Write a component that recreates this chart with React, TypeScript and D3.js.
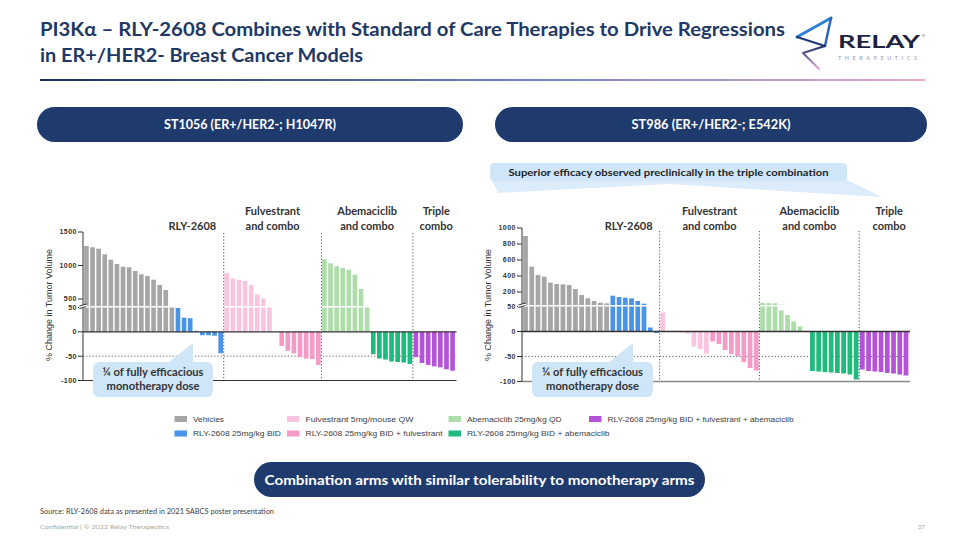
import React from "react";
import * as d3 from "d3";

// ---------------- data ----------------
const seriesNames = [
  "Vehicles",
  "RLY-2608 25mg/kg BID",
  "Fulvestrant 5mg/mouse QW",
  "RLY-2608 25mg/kg BID + fulvestrant",
  "Abemaciclib 25mg/kg QD",
  "RLY-2608 25mg/kg BID + abemaciclib",
  "RLY-2608 25mg/kg BID + fulvestrant + abemaciclib",
];

// ST1056 (ER+/HER2-; H1047R)
const st1056Vehicles = [1291, 1272, 1251, 1167, 1087, 1022, 982, 973, 918, 869, 843, 788, 709, 634, 300];
const st1056Rly = [49, 29, 28, 2, -7, -7, -8, -44];
const st1056Fulv = [886, 806, 786, 771, 708, 568, 509, 300, 0];
const st1056RlyFulv = [-29, -39, -44, -52, -55, -56, -68];
const st1056Abema = [1093, 1033, 988, 963, 937, 863, 649, 300];
const st1056RlyAbema = [-46, -55, -57, -61, -62, -63, -66];
const st1056Triple = [-52, -64, -68, -71, -73, -77, -80];

// ST986 (ER+/HER2-; E542K)
const st986Vehicles = [900, 517, 412, 392, 317, 300, 296, 288, 237, 162, 121, 88, 66, 58];
const st986Rly = [154, 137, 129, 121, 88, 54, 8, -3];
const st986Fulv = [38, 0, 0, -2, -4, -30, -35, -44];
const st986RlyFulv = [-20, -25, -37, -45, -49, -61, -73, -78];
const st986Abema = [62, 60, 58, 42, 33, 20, 10, 0];
const st986RlyAbema = [-79, -80, -81, -82, -83, -84, -86, -96];
const st986Triple = [-76, -79, -80, -81, -83, -84, -86, -88];

const leftUpperTicks = [500, 1000, 1500];
const rightUpperTicks = [200, 400, 600, 800, 1000];
const lowerTicks = [50, 0, -50, -100];
const sectionTitles = [["RLY-2608"], ["Fulvestrant", "and combo"], ["Abemaciclib", "and combo"], ["Triple", "combo"]];
const sectionSeries = [[0, 1], [2, 3], [4, 5], [6]];

// ---------------- styles ----------------
const seriesColors = ["#a6a6a6", "#4a94e8", "#f9c4df", "#f59bc8", "#aedcab", "#1dbb7c", "#b453d8"];
const NAVY = "#1f3a6d";
const CAL = "Lato, 'Open Sans', sans-serif";
const ARIAL = "'Liberation Sans', Arial, sans-serif";

type Cfg = {
  id: string;
  x0: number; x1: number; axisX: number;
  lowerRange: [number, number];
  upperDomain: [number, number];
  upperRange: [number, number];
  upperTicks: number[];
  clipBottom: number;
  titleX: number;
  sepTop: number;
  bottomStroke: string; bottomWidth: number;
  labelDx: number[];
  callout: { x: number; y: number; w: number; h: number; tipX: number; tipY: number; baseX: number };
};

const leftCfg: Cfg = {
  id: "L", x0: 83.5, x1: 455.5, axisX: 83,
  lowerRange: [380.5, 307.5], upperDomain: [0, 1500], upperRange: [332.5, 232],
  upperTicks: leftUpperTicks, clipBottom: 306, titleX: 52, sepTop: 233,
  bottomStroke: "#333", bottomWidth: 1, labelDx: [-7, 0, 0, 2],
  callout: { x: 93, y: 362, w: 120, h: 35, tipX: 193, tipY: 343, baseX: 168 },
};
const rightCfg: Cfg = {
  id: "R", x0: 522.5, x1: 909, axisX: 522,
  lowerRange: [381.5, 306.5], upperDomain: [0, 1000], upperRange: [308, 228],
  upperTicks: rightUpperTicks, clipBottom: 305, titleX: 491, sepTop: 231,
  bottomStroke: "#8a8a8a", bottomWidth: 1.6, labelDx: [-6, 0, 0, 5],
  callout: { x: 532, y: 362, w: 121, h: 35, tipX: 633, tipY: 343, baseX: 608 },
};

function Panel({ cfg, series }: { cfg: Cfg; series: number[][] }) {
  const flat = series.flatMap((arr, si) => arr.map((v) => ({ v, si })));
  const n = flat.length;
  const x = d3.scaleBand<number>().domain(d3.range(n)).range([cfg.x0, cfg.x1]).paddingInner(0.24).paddingOuter(0.1);
  const yL = d3.scaleLinear().domain([-100, 50]).range(cfg.lowerRange);
  const yU = d3.scaleLinear().domain(cfg.upperDomain).range(cfg.upperRange);
  const step = x.step();
  const edge = (i: number) => (i < n ? (x(i) as number) : (x(n - 1) as number) + step) - (step * x.paddingInner()) / 2;
  let idx = 0;
  const sections = sectionSeries.map((ss) => {
    const start = idx;
    idx += ss.reduce((a, s) => a + series[s].length, 0);
    return { start, end: idx };
  });
  const rlyStart = series[0].length;
  const rlyEnd = rlyStart + series[1].length;
  const labelX = sections.map((s, k) =>
    k === 0 ? (edge(rlyStart) + edge(rlyEnd)) / 2 + cfg.labelDx[k] : (edge(s.start) + edge(s.end)) / 2 + cfg.labelDx[k]
  );
  const yTop = yU(cfg.upperDomain[1]);
  const yBot = yL(-100);
  const ax = cfg.axisX;
  const bw = x.bandwidth();
  const c = cfg.callout;
  const tickStyle = { fontFamily: ARIAL, fontSize: 7, fontWeight: 700 as const, fill: "#333", letterSpacing: 0.5 };

  return (
    <g>
      <defs>
        <clipPath id={"up" + cfg.id}>
          <rect x={cfg.x0 - 5} y={yTop - 10} width={cfg.x1 - cfg.x0 + 10} height={cfg.clipBottom - yTop + 10} />
        </clipPath>
      </defs>
      {/* -50 reference */}
      <line x1={ax} x2={cfg.x1} y1={yL(-50)} y2={yL(-50)} stroke="#666" strokeWidth={1} strokeDasharray="1.2 2" />
      {/* bars */}
      {flat.map((d, i) => {
        const bx = x(i) as number;
        const col = seriesColors[d.si];
        if (d.v >= 0) {
          const top = yL(Math.min(d.v, 50));
          const ut = yU(d.v);
          return (
            <g key={i}>
              <rect x={bx} y={top} width={bw} height={yL(0) - top} fill={col} />
              {ut < cfg.clipBottom && (
                <rect x={bx} y={ut} width={bw} height={cfg.clipBottom - ut} fill={col} clipPath={`url(#up${cfg.id})`} />
              )}
            </g>
          );
        }
        return <rect key={i} x={bx} y={yL(0)} width={bw} height={yL(d.v) - yL(0)} fill={col} />;
      })}
      {/* section separators */}
      {sections.slice(1).map((s, k) => (
        <line key={k} x1={edge(s.start)} x2={edge(s.start)} y1={cfg.sepTop} y2={yBot} stroke="#555" strokeWidth={1} strokeDasharray="1.2 2" />
      ))}
      {/* zero line & bottom line */}
      <line x1={ax} x2={cfg.x1 + 1} y1={yL(0)} y2={yL(0)} stroke="#333" strokeWidth={1.3} />
      <line x1={ax} x2={cfg.x1 + 1} y1={yBot} y2={yBot} stroke={cfg.bottomStroke} strokeWidth={cfg.bottomWidth} />
      {/* y axis */}
      <line x1={ax} x2={ax} y1={yTop} y2={yBot} stroke="#333" strokeWidth={1} />
      {cfg.upperTicks.map((t) => (
        <g key={"u" + t}>
          <line x1={ax - 5} x2={ax} y1={yU(t)} y2={yU(t)} stroke="#333" />
          <text x={ax - 6} y={yU(t)} dy="0.35em" textAnchor="end" style={tickStyle}>{t}</text>
        </g>
      ))}
      {lowerTicks.map((t) => (
        <g key={"l" + t}>
          <line x1={ax - 5} x2={ax} y1={yL(t)} y2={yL(t)} stroke="#333" />
          <text x={ax - 6} y={yL(t)} dy="0.35em" textAnchor="end" style={tickStyle}>{t}</text>
        </g>
      ))}
      {/* axis break */}
      <rect x={ax - 4} y={cfg.clipBottom - 1} width={8} height={yL(50) - cfg.clipBottom + 1.5} fill="#fff" />
      <line x1={ax - 3.5} x2={ax + 3.5} y1={cfg.clipBottom} y2={cfg.clipBottom - 2} stroke="#333" strokeWidth={1} />
      <line x1={ax - 3.5} x2={ax + 3.5} y1={yL(50) + 1} y2={yL(50) - 1} stroke="#333" strokeWidth={1} />
      {/* y title */}
      <text transform={`translate(${cfg.titleX},305) rotate(-90)`} textAnchor="middle" style={{ fontFamily: ARIAL, fontSize: 9, fill: "#333" }}>
        % Change in Tumor Volume
      </text>
      {/* section titles */}
      {sectionTitles.map((lines, k) => (
        <text key={k} textAnchor="middle" style={{ fontFamily: CAL, fontSize: 11, fontWeight: 700, fill: "#333" }}>
          {lines.map((ln, j) => (
            <tspan key={j} x={labelX[k]} y={lines.length === 1 ? 230 : 215 + j * 14.5}>{ln}</tspan>
          ))}
        </text>
      ))}
      {/* callout */}
      <path d={`M${c.baseX},${c.y + 1} L${c.tipX},${c.tipY} L${c.tipX},${c.y + 1} Z`} fill="#cfe6f9" />
      <rect x={c.x} y={c.y} width={c.w} height={c.h} rx={6} fill="#cfe6f9" />
      <text x={c.x + c.w / 2} y={c.y + 13.5} textAnchor="middle" textLength={101} lengthAdjust="spacingAndGlyphs"
        style={{ fontFamily: CAL, fontSize: 11, fontWeight: 700, fill: "#333" }}>¼ of fully efficacious</text>
      <text x={c.x + c.w / 2} y={c.y + 28} textAnchor="middle" textLength={93} lengthAdjust="spacingAndGlyphs"
        style={{ fontFamily: CAL, fontSize: 11, fontWeight: 700, fill: "#333" }}>monotherapy dose</text>
    </g>
  );
}

const legendCols = [174.5, 287, 448.5, 589];
const legendRows = [419, 433.5];
const legendTextLen = [31, 88, 108, 137, 94.5, 142.5, 186];

export default function App() {
  const leftSeries = [st1056Vehicles, st1056Rly, st1056Fulv, st1056RlyFulv, st1056Abema, st1056RlyAbema, st1056Triple];
  const rightSeries = [st986Vehicles, st986Rly, st986Fulv, st986RlyFulv, st986Abema, st986RlyAbema, st986Triple];
  return (
    <svg width={960} height={540} viewBox="0 0 960 540" style={{ position: "absolute", left: 0, top: 0, background: "#fff" }}>
      <defs>
        <linearGradient id="rule" x1="0" x2="1" y1="0" y2="0">
          <stop offset="0" stopColor="#1b2d5c" />
          <stop offset="0.55" stopColor="#6f86c0" />
          <stop offset="1" stopColor="#e7aacd" />
        </linearGradient>
        <linearGradient id="logoLow" x1="0" x2="0" y1="0" y2="1">
          <stop offset="0" stopColor="#1c2f66" />
          <stop offset="1" stopColor="#e3a9d0" />
        </linearGradient>
      </defs>
      <rect width={960} height={540} fill="#fff" />
      {/* title */}
      <text x={40} y={36} textLength={745} lengthAdjust="spacingAndGlyphs" style={{ fontFamily: CAL, fontSize: 19, fontWeight: 700, fill: "#1f3864" }}>
        PI3Kα – RLY-2608 Combines with Standard of Care Therapies to Drive Regressions
      </text>
      <text x={40} y={62} textLength={323} lengthAdjust="spacingAndGlyphs" style={{ fontFamily: CAL, fontSize: 19, fontWeight: 700, fill: "#1f3864" }}>
        in ER+/HER2- Breast Cancer Models
      </text>
      <rect x={40} y={79} width={885} height={2} fill="url(#rule)" />
      {/* logo */}
      <g fill="none" strokeLinejoin="round" strokeLinecap="round">
        <path d="M797,37 L831,18" stroke="#2f80d8" strokeWidth={3} />
        <path d="M831,18 L825,46" stroke="#2c66bd" strokeWidth={2.5} />
        <path d="M797,37 L825,46" stroke="#1d3878" strokeWidth={2} />
        <path d="M825,46 L803,53 L819,69" stroke="url(#logoLow)" strokeWidth={2} />
      </g>
      <text x={838} y={48} textLength={82} lengthAdjust="spacingAndGlyphs" style={{ fontFamily: CAL, fontSize: 16.5, fontWeight: 700, fill: "#1c2340" }}>RELAY</text>
      <text x={922} y={37} style={{ fontFamily: ARIAL, fontSize: 4, fill: "#1c2340" }}>®</text>
      <text x={838} y={60} textLength={79} lengthAdjust="spacing" style={{ fontFamily: CAL, fontSize: 5.5, fill: "#8c9cc0" }}>THERAPEUTICS</text>
      {/* model pills */}
      <rect x={37} y={107} width={426} height={35} rx={17.5} fill={NAVY} />
      <text x={250} y={129} textAnchor="middle" textLength={172} lengthAdjust="spacingAndGlyphs" style={{ fontFamily: CAL, fontSize: 12.5, fontWeight: 700, fill: "#fff" }}>
        ST1056 (ER+/HER2-; H1047R)
      </text>
      <rect x={495} y={107} width={432} height={35} rx={17.5} fill={NAVY} />
      <text x={711} y={129} textAnchor="middle" textLength={159} lengthAdjust="spacingAndGlyphs" style={{ fontFamily: CAL, fontSize: 12.5, fontWeight: 700, fill: "#fff" }}>
        ST986 (ER+/HER2-; E542K)
      </text>
      {/* superior efficacy banner */}
      <path d="M492,180 L847,180 L882,197 L668,184 L498,193 Z" fill="#dcecfa" />
      <rect x={490} y={163} width={357} height={18} rx={4} fill="#cfe6f9" />
      <text x={668.5} y={175.5} textAnchor="middle" textLength={320} lengthAdjust="spacingAndGlyphs" style={{ fontFamily: CAL, fontSize: 10, fontWeight: 700, fill: "#222" }}>
        Superior efficacy observed preclinically in the triple combination
      </text>
      <Panel cfg={leftCfg} series={leftSeries} />
      <Panel cfg={rightCfg} series={rightSeries} />
      {/* legend */}
      {seriesNames.map((name, si) => {
        const cx = legendCols[Math.floor(si / 2)];
        const cy = legendRows[si % 2];
        return (
          <g key={si}>
            <rect x={cx} y={cy - 3} width={12.5} height={6} fill={seriesColors[si]} />
            <text x={cx + 18.5} y={cy} dy="0.35em" textLength={legendTextLen[si]} lengthAdjust="spacingAndGlyphs"
              style={{ fontFamily: ARIAL, fontSize: 8, fill: "#404040" }}>{name}</text>
          </g>
        );
      })}
      {/* bottom pill */}
      <rect x={254} y={462} width={451} height={35} rx={17.5} fill={NAVY} />
      <text x={479.5} y={484.5} textAnchor="middle" textLength={430} lengthAdjust="spacingAndGlyphs" style={{ fontFamily: CAL, fontSize: 14, fontWeight: 700, fill: "#fff" }}>
        Combination arms with similar tolerability to monotherapy arms
      </text>
      {/* footer */}
      <text x={40} y={514} textLength={234} lengthAdjust="spacingAndGlyphs" style={{ fontFamily: CAL, fontSize: 7, fill: "#404040" }}>
        Source: RLY-2608 data as presented in 2021 SABCS poster presentation
      </text>
      <text x={40} y={529} textLength={129} lengthAdjust="spacingAndGlyphs" style={{ fontFamily: CAL, fontSize: 6, fill: "#a6a6a6" }}>
        Confidential | © 2022 Relay Therapeutics
      </text>
      <text x={925} y={529} textAnchor="end" style={{ fontFamily: CAL, fontSize: 6, fill: "#a6a6a6" }}>37</text>
    </svg>
  );
}
